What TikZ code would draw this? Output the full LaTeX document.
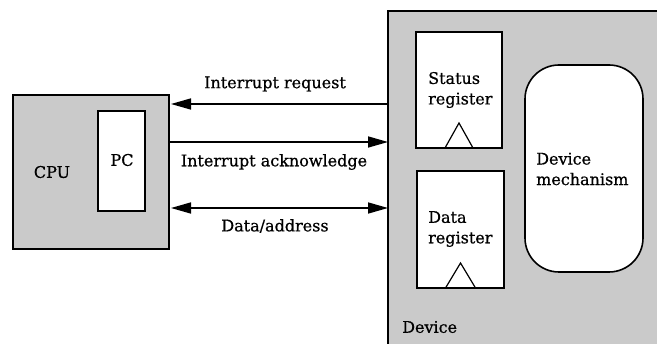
\documentclass[tikz,border=0pt]{standalone}
\usepackage{fontspec}
\setmainfont{DejaVu Serif}[FakeBold=0.7]
\usetikzlibrary{arrows.meta,calc}
\definecolor{boxgray}{RGB}{202,202,202}
\begin{document}
\begin{tikzpicture}[x=1pt,y=-1pt,
  font=\fontsize{16}{20.5}\selectfont,
  graybox/.style={draw=black,line width=1.6pt,fill=boxgray,inner sep=0pt,outer sep=0pt,anchor=north west},
  whitebox/.style={draw=black,line width=1.6pt,fill=white,inner sep=0pt,outer sep=0pt,anchor=north west},
  lbl/.style={inner sep=0pt,align=left},
  conn/.style={line width=1.6pt},
  clocktri/.style={line width=1.2pt}]
\useasboundingbox (0,0) rectangle (657,344);
\clip (0,0) rectangle (657,344);
% CPU
\node[graybox,minimum width=156pt,minimum height=154pt] (cpu) at (13,95) {};
\node[whitebox,minimum width=47pt,minimum height=100pt] (pc) at (98,111) {};
\node[lbl] (cputxt) at (52,172) {CPU};
\node[lbl] (pctxt) at (122,160) {PC};
% Device
\node[graybox,minimum width=300pt,minimum height=360pt] (dev) at (388,11) {};
\node[lbl,anchor=west] (devtxt) at (402,327) {Device};
\node[whitebox,minimum width=86pt,minimum height=116pt] (sr) at (416,32) {};
\node[lbl,anchor=west] (srtxt) at (428,90) {Status\\register};
\node[whitebox,minimum width=87pt,minimum height=117pt] (dr) at (417,171) {};
\node[lbl,anchor=west] (drtxt) at (428,229) {Data\\register};
\node[whitebox,rounded corners=34pt,minimum width=118pt,minimum height=207pt] (mech) at (525,65) {};
\node[lbl,anchor=west] (mechtxt) at (536,169) {Device\\mechanism};
% clock triangles
\draw[clocktri] ($(sr.south)+(-14,0)$) -- ($(sr.south)+(0,-25)$) -- ($(sr.south)+(14,0)$);
\draw[clocktri] ($(dr.south)+(-15,0)$) -- ($(dr.south)+(0,-25)$) -- ($(dr.south)+(15,0)$);
% connectors
\coordinate (yreq) at (0,104);
\coordinate (yack) at (0,142);
\coordinate (ydat) at (0,208);
\draw[conn,-{Triangle[length=20pt,width=11pt]}] (dev.west |- yreq) -- ($(cpu.east |- yreq)+(2,0)$);
\draw[conn,-{Triangle[length=20pt,width=11pt]}] (cpu.east |- yack) -- (dev.west |- yack);
\draw[conn,{Triangle[length=20pt,width=11pt]}-{Triangle[length=20pt,width=11pt]}] ($(cpu.east |- ydat)+(2,0)$) -- (dev.west |- ydat);
\node[lbl] (reqtxt) at (275,84) {Interrupt request};
\node[lbl] (acktxt) at (274,162) {Interrupt acknowledge};
\node[lbl] (dattxt) at (275,226) {Data/address};
\end{tikzpicture}
\end{document}
